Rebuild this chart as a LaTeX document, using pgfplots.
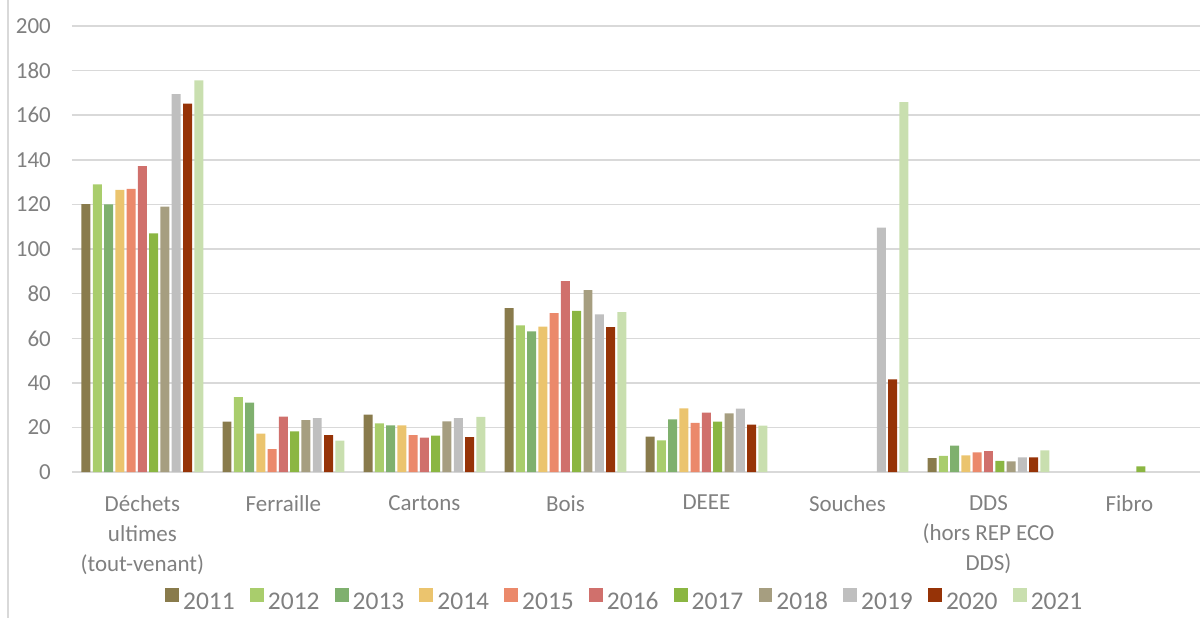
\documentclass[border=0pt]{standalone}
\usepackage{fontspec}
\setmainfont{Carlito}
\usepackage{pgfplots}
\pgfplotsset{compat=1.18}
\definecolor{txt}{HTML}{808080}
\definecolor{gridc}{HTML}{D9D9D9}
\definecolor{c11}{HTML}{897B4C}
\definecolor{c12}{HTML}{A9CD6C}
\definecolor{c13}{HTML}{7FB06E}
\definecolor{c14}{HTML}{EBC46E}
\definecolor{c15}{HTML}{EB896B}
\definecolor{c16}{HTML}{D0706C}
\definecolor{c17}{HTML}{8BB642}
\definecolor{c18}{HTML}{A69E80}
\definecolor{c19}{HTML}{BFBFBF}
\definecolor{c20}{HTML}{963307}
\definecolor{c21}{HTML}{C9DFAF}
\begin{document}
\begin{tikzpicture}
\begin{axis}[
    name=ax,
    scale only axis,
    width=565pt, height=223.5pt,
    ybar=1.15pt, bar width=4.5pt,
    xmin=-0.5, xmax=7.5,
    ymin=0, ymax=200,
    ytick distance=20,
    xtick={0,...,7},
    xticklabels={{Déchets\\ultimes\\(tout-venant)},Ferraille,Cartons,Bois,DEEE,Souches,{DDS\\(hors REP ECO\\DDS)},Fibro},
    xticklabel style={align=center, font=\fontsize{11.5}{15}\selectfont, text=txt, yshift=-8pt},
    yticklabel style={font=\fontsize{11.5}{14}\selectfont, text=txt, xshift=-7pt},
    /pgf/number format/assume math mode=true,
    major tick length=0pt,
    axis x line*=bottom, axis y line*=left,
    x axis line style={draw=gridc, line width=0.75pt},
    y axis line style={draw=none},
    ymajorgrids, grid style={gridc, line width=0.75pt},
    every axis plot/.append style={draw=none},
    legend style={at={(0.491,-0.289)}, anchor=center, draw=none,
        font=\fontsize{12.75}{15}\selectfont, text=txt,
        nodes={text depth=0pt, text height=8.5pt},
        /tikz/every even column/.append style={column sep=5.6pt}},
    legend columns=-1,
    legend image code/.code={\path[#1] (0pt,-0.5pt) rectangle (7pt,6.5pt);},
]
\addplot[fill=c11] coordinates {(0,120.2)(1,22.7)(2,25.8)(3,73.5)(4,16.0)(6,6.3)};
\addplot[fill=c12] coordinates {(0,129)(1,33.6)(2,21.9)(3,65.8)(4,14.3)(6,7.3)};
\addplot[fill=c13] coordinates {(0,120)(1,31.2)(2,21.0)(3,63.1)(4,23.7)(6,11.9)};
\addplot[fill=c14] coordinates {(0,126.5)(1,17.3)(2,21.0)(3,65.2)(4,28.6)(6,7.6)};
\addplot[fill=c15] coordinates {(0,127)(1,10.3)(2,16.6)(3,71.3)(4,22.1)(6,8.9)};
\addplot[fill=c16] coordinates {(0,137.2)(1,24.9)(2,15.5)(3,85.6)(4,26.7)(6,9.5)};
\addplot[fill=c17] coordinates {(0,107)(1,18.3)(2,16.4)(3,72.3)(4,22.7)(6,5.1)(7,2.6)};
\addplot[fill=c18] coordinates {(0,119)(1,23.4)(2,22.8)(3,81.6)(4,26.4)(6,4.9)};
\addplot[fill=c19] coordinates {(0,169.5)(1,24.2)(2,24.2)(3,70.7)(4,28.5)(5,109.6)(6,6.7)};
\addplot[fill=c20] coordinates {(0,165.2)(1,16.6)(2,15.7)(3,65.0)(4,21.3)(5,41.6)(6,6.7)};
\addplot[fill=c21] coordinates {(0,175.6)(1,14.2)(2,24.8)(3,71.7)(4,20.9)(5,165.9)(6,9.8)};
\legend{2011,2012,2013,2014,2015,2016,2017,2018,2019,2020,2021}
\end{axis}
\draw[gridc, line width=0.75pt] ([shift={(-32pt,13pt)}]ax.north west) -- ([shift={(-32pt,-73pt)}]ax.south west);
\pgfresetboundingbox
\path[use as bounding box] ([shift={(-36pt,-73pt)}]ax.south west) rectangle ([shift={(1pt,13pt)}]ax.north east);
\end{tikzpicture}
\end{document}
